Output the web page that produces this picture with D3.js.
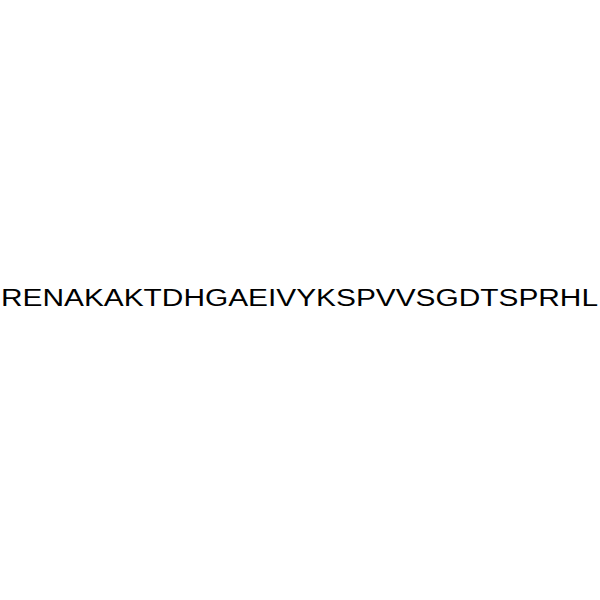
<!DOCTYPE html>
<html>
<head>
<meta charset="utf-8">
<script src="https://cdn.jsdelivr.net/npm/d3@7"></script>
<style>
  body { margin: 0; background: #fff; }
</style>
</head>
<body>
<script>
// Peptide sequence shown in the picture
var residues = ["R","E","N","A","K","A","K","T","D","H","G","A","E","I","V","Y","K","S","P","V","V","S","G","D","T","S","P","R","H","L"];

var svgWidth = 600;
var svgHeight = 600;

var svg = d3.select("body")
  .append("svg")
  .attr("width", svgWidth)
  .attr("height", svgHeight);

// Sequence written as one line of text across the middle
svg.append("text")
  .attr("x", 1)
  .attr("y", 306)
  .attr("font-family", "Liberation Sans, Arial, sans-serif")
  .attr("font-size", 23)
  .attr("fill", "#000")
  .attr("textLength", 597)
  .attr("lengthAdjust", "spacingAndGlyphs")
  .text(residues.join(""));
</script>
</body>
</html>
